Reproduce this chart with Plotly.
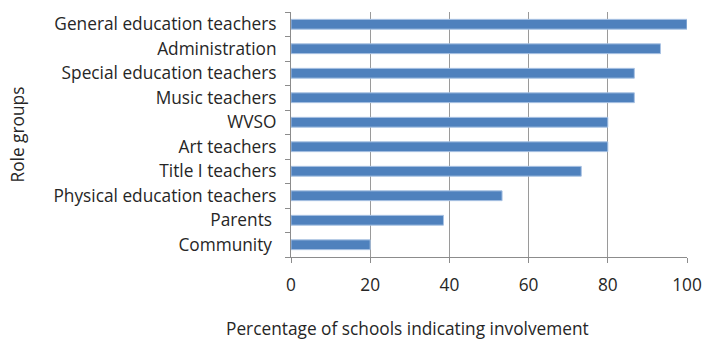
import plotly.graph_objects as go

categories = ["General education teachers", "Administration", "Special education teachers",
              "Music teachers", "WVSO", "Art teachers", "Title I teachers",
              "Physical education teachers", "Parents ", "Community "]
values = [100, 93.3, 86.7, 86.7, 80, 80, 73.3, 53.3, 38.5, 20]
x_ticks = [0, 20, 40, 60, 80, 100]

FONT = "Open Sans"
FS = 17.3
fig = go.Figure(go.Bar(
    y=categories, x=values, orientation="h", width=0.4,
    marker=dict(color="#4F81BD", line=dict(color="#A9C2E3", width=1)),
))
fig.update_layout(
    width=702, height=343,
    margin=dict(l=291, r=15, t=12, b=86, autoexpand=False),
    plot_bgcolor="white", paper_bgcolor="white",
    showlegend=False,
    font=dict(family=FONT, size=FS, color="#262626"),
)
fig.update_xaxes(
    range=[0, 100], tickvals=x_ticks, showgrid=True, gridcolor="#9A9A9A", gridwidth=1,
    showline=True, linecolor="#8C8C8C", linewidth=1, ticks="outside", ticklen=5,
    tickcolor="#8C8C8C", zeroline=False, tickfont=dict(size=FS, color="#262626"),
    automargin=False, ticklabelstandoff=7,
)
fig.update_yaxes(
    categoryorder="array", categoryarray=categories[::-1], tickson="boundaries",
    showline=True, linecolor="#8C8C8C", linewidth=1, ticks="outside", ticklen=5,
    tickcolor="#8C8C8C", showgrid=False, ticklabelstandoff=10, automargin=False,
    tickfont=dict(size=FS, color="#262626"),
)
fig.add_annotation(text="Role groups", xref="paper", yref="paper", x=(17 - 291) / 396, y=0.5,
                   textangle=-90, showarrow=False, font=dict(size=FS, color="#262626"),
                   xanchor="center", yanchor="middle")
fig.add_annotation(text="Percentage of schools indicating involvement", xref="paper", yref="paper",
                   x=(407 - 291) / 396, y=-(342 - 257) / 245, showarrow=False,
                   font=dict(size=FS, color="#262626"), xanchor="center", yanchor="bottom")
fig.write_html("out.html")
